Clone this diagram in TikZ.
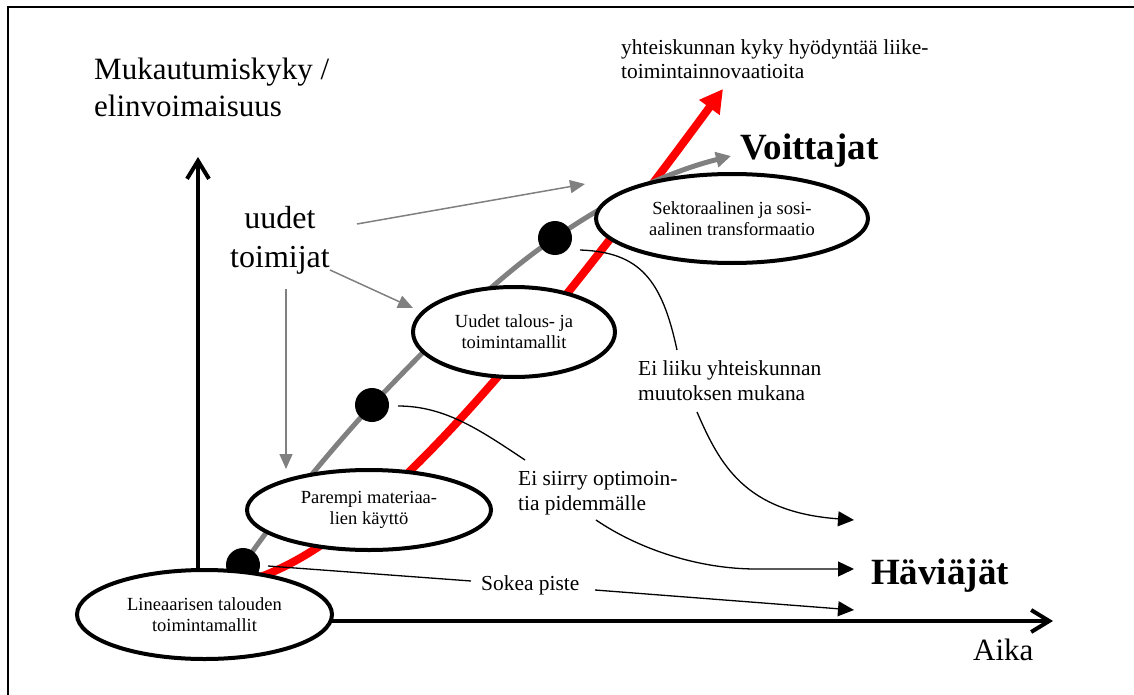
\documentclass[tikz,border=0pt]{standalone}
\usepackage{fontspec}
\setmainfont{Liberation Serif}
\usetikzlibrary{arrows.meta,shapes.geometric}

\begin{document}
\begin{tikzpicture}[x=1pt,y=-1pt,
  stage/.style={ellipse, draw, line width=4pt, fill=white, inner sep=0pt,
    align=center, font=\fontsize{18.5}{21}\selectfont},
  dot/.style={circle, fill=black, inner sep=0pt, minimum size=34pt},
  lbl/.style={inner sep=0pt, anchor=base west, align=left},
  small/.style={font=\fontsize{21.4}{25}\selectfont},
  big/.style={font=\fontsize{37}{44}\selectfont\bfseries},
  axis/.style={line width=4pt, -{Straight Barb[length=18pt,width=22pt]}},
  lead/.style={line width=1.3pt},
  leadarrow/.style={line width=1.3pt, -{Triangle[length=16pt,width=15pt]}},
  newarrow/.style={draw=gray, line width=1.5pt, -{Triangle[length=15pt,width=13pt,fill=gray]}},
]
\useasboundingbox (0,0) rectangle (1134,695);
% frame
\draw[line width=2.2pt] (8,695) -- (8,7) -- (1134,7);

% axes
\coordinate (origin) at (198,621);
\coordinate (ytip) at (198,157);
\coordinate (xtip) at (1053,621);
\draw[axis] (origin) -- (ytip);
\draw[axis] (origin) -- (xtip);

% red development path
\coordinate (r0) at (252,580);
\coordinate (r1) at (723,89);
\draw[red, line width=8pt, -{Triangle[length=23pt,width=24pt]}]
  (r0) .. controls (340,550) and (450,460) .. (r1);

% gray development path through the checkpoints
\coordinate (p1) at (243,565);
\coordinate (p2) at (372,405);
\coordinate (p3) at (555,238);
\coordinate (gtip) at (731,156);
\draw[gray, line width=5pt, -{Triangle[length=15pt,width=15pt]}]
  (p1) .. controls (283,507) and (332,449) .. (p2)
       .. controls (432,342) and (495,278) .. (p3)
       .. controls (620,193) and (675,170) .. (gtip);

\node[dot] (d1) at (p1) {};
\node[dot] (d2) at (p2) {};
\node[dot] (d3) at (p3) {};

% stages
\node[stage, minimum width=255pt, minimum height=89pt] (e1) at (204.5,614.5)
  {Lineaarisen talouden\\toimintamallit};
\node[stage, minimum width=244pt, minimum height=80pt] (e2) at (369,510)
  {Parempi materiaa-\\lien käyttö};
\node[stage, minimum width=202pt, minimum height=90pt] (e3) at (514,332)
  {Uudet talous- ja\\toimintamallit};
\node[stage, minimum width=272pt, minimum height=89pt] (e4) at (732,218.5)
  {Sektoraalinen ja sosi-\\aalinen transformaatio};

% labels (multi-line labels are placed by the baseline of their last line)
\node[lbl, font=\fontsize{31}{37}\selectfont] (ylabel) at (94,117)
  {Mukautumiskyky /\\elinvoimaisuus};
\node[inner sep=0pt, anchor=base, align=center, font=\fontsize{32}{39}\selectfont]
  (newcomers) at (280,267) {uudet\\toimijat};
\node[lbl, font=\fontsize{21.4}{24}\selectfont] (society) at (621,79)
  {yhteiskunnan kyky hyödyntää liike-\\toimintainnovaatioita};
\node[lbl, big] (win) at (740,160) {Voittajat};
\node[lbl, big] (lose) at (871,584) {Häviäjät};
\node[lbl, font=\fontsize{31}{37}\selectfont] (time) at (973,660) {Aika};
\node[lbl, small] (nomove) at (638,400) {Ei liiku yhteiskunnan\\muutoksen mukana};
\node[lbl, small] (noopt) at (518,510) {Ei siirry optimoin-\\tia pidemmälle};
\node[lbl, small] (blind) at (481,590) {Sokea piste};

% newcomers entering at each stage
\coordinate (n1) at (357,224);
\coordinate (n1e) at (585,184);
\coordinate (n2) at (330,270);
\coordinate (n2e) at (413,308);
\coordinate (n3) at (286,289);
\coordinate (n3e) at (286,469);
\draw[newarrow] (n1) -- (n1e);
\draw[newarrow] (n2) -- (n2e);
\draw[newarrow] (n3) -- (n3e);

% drop-out routes towards the losers
\coordinate (a1) at (580,250);
\coordinate (a1e) at (677,350);
\draw[lead] (a1) .. controls (640,252) and (662,280) .. (a1e);
\coordinate (b1) at (697,412);
\coordinate (b1e) at (854,520);
\draw[leadarrow] (b1) .. controls (720,465) and (745,512) .. (b1e);

\coordinate (a2) at (398,406);
\coordinate (a2e) at (525,460);
\draw[lead] (a2) .. controls (445,406) and (480,430) .. (a2e);
\coordinate (b2) at (596,520);
\coordinate (b2m) at (756,569);
\coordinate (b2e) at (854,569);
\draw[leadarrow] (b2) .. controls (640,550) and (700,569) .. (b2m) -- (b2e);

\coordinate (a3) at (268,566);
\coordinate (a3e) at (471,581);
\draw[lead] (a3) -- (a3e);
\coordinate (b3) at (595,590);
\coordinate (b3e) at (854,610);
\draw[leadarrow] (b3) -- (b3e);
\end{tikzpicture}
\end{document}
